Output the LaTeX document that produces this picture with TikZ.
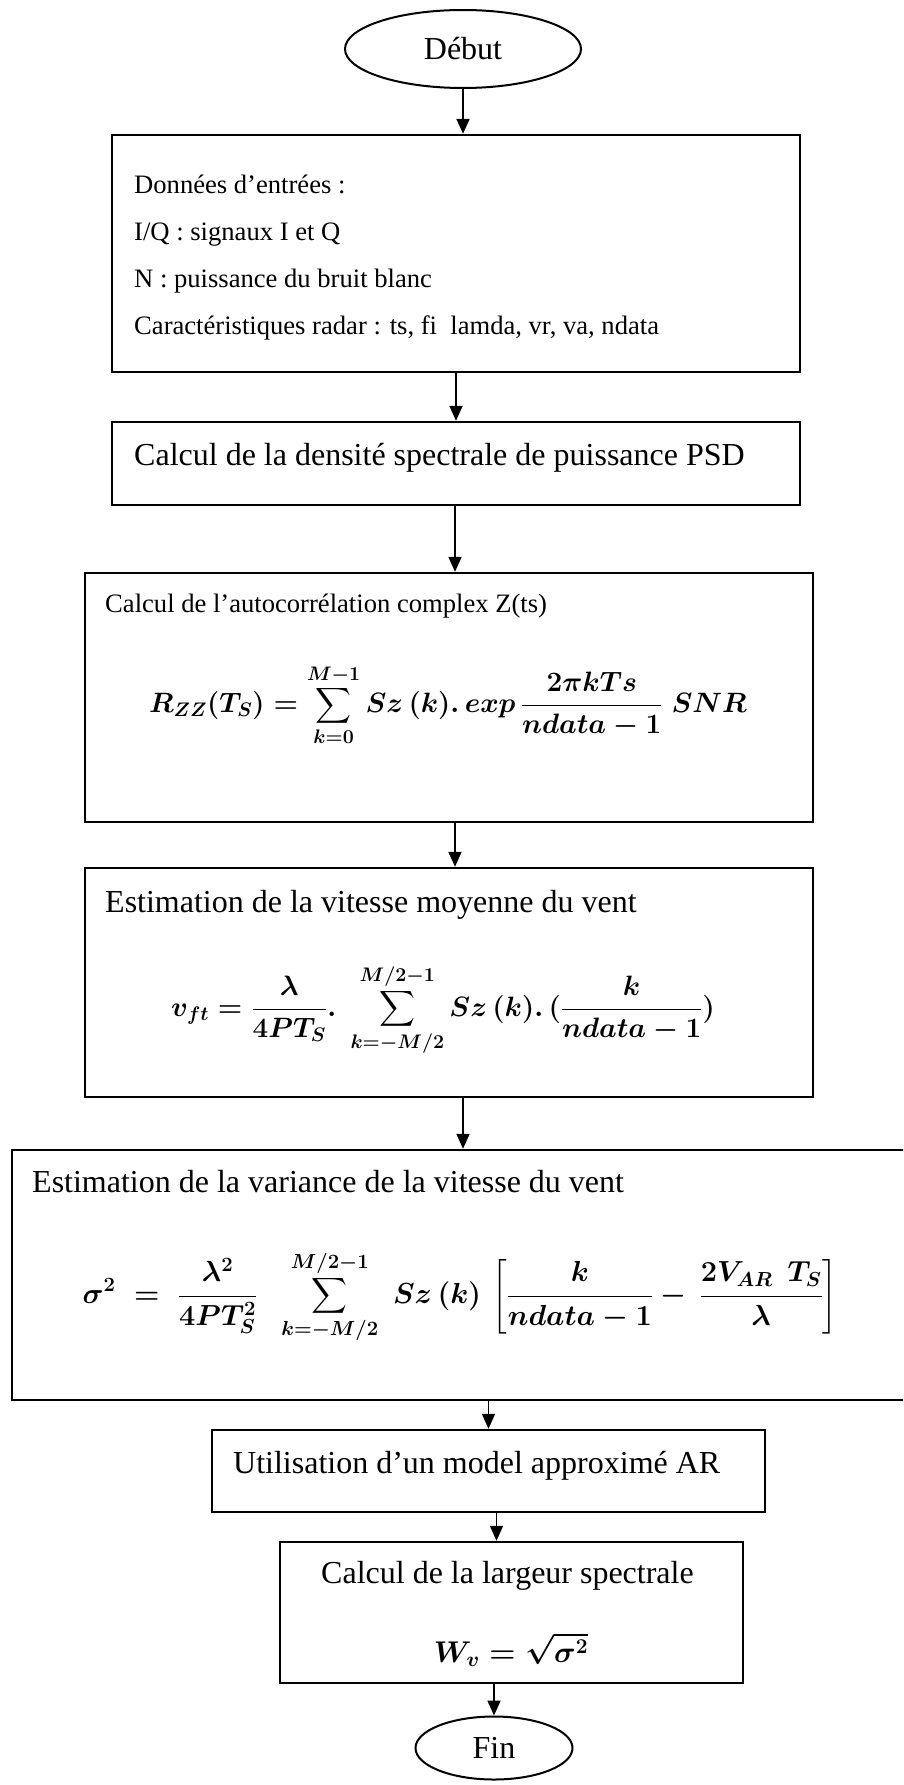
\documentclass[tikz,border=0pt]{standalone}
\usepackage{fix-cm}
\usepackage{amsmath}
\usepackage{fontspec}
\setmainfont{Liberation Serif}
\usetikzlibrary{arrows.meta,shapes.geometric}
\begin{document}
\begin{tikzpicture}[x=1pt,y=-1pt,
  stepbox/.style={draw, line width=2.4pt, inner sep=0pt},
  oval/.style={draw, ellipse, line width=2pt, inner sep=0pt, font=\fontsize{32}{36}\selectfont},
  txtsmall/.style={anchor=base west, inner sep=0pt, font=\fontsize{26.6}{30}\selectfont},
  txtbig/.style={anchor=base west, inner sep=0pt, font=\fontsize{32}{36}\selectfont},
  formula/.style={inner sep=0pt, font=\fontsize{28}{34}\selectfont\boldmath},
  arr/.style={line width=1.8pt, -{Triangle[length=15pt,width=13pt]}}
]
\useasboundingbox (0,0) rectangle (903,1785);
\clip (0,0) rectangle (903,1785);

% ovals
\node[oval, minimum width=236pt, minimum height=78pt] (debut) at (463,49) {Début};
\node[oval, minimum width=157pt, minimum height=63pt] (fin) at (494,1748) {Fin};

% boxes
\node[stepbox, minimum width=688pt, minimum height=237pt] (b1) at (456,253.5) {};
\node[stepbox, minimum width=688pt, minimum height=83pt] (b2) at (456,463.5) {};
\node[stepbox, minimum width=728pt, minimum height=249pt] (b3) at (449,697.5) {};
\node[stepbox, minimum width=728pt, minimum height=229pt] (b4) at (449,982.5) {};
\node[stepbox, minimum width=900pt, minimum height=250pt] (b5) at (462,1275) {};
\node[stepbox, minimum width=553pt, minimum height=82pt] (b6) at (488.5,1471) {};
\node[stepbox, minimum width=463pt, minimum height=141pt] (b7) at (511.5,1612.5) {};

% texts
\node[txtsmall] (t1a) at (134,193) {Données d’entrées :};
\node[txtsmall] (t1b) at (134,240) {I/Q : signaux I et Q};
\node[txtsmall] (t1c) at (134,287) {N : puissance du bruit blanc};
\node[txtsmall] (t1d) at (134,334) {Caractéristiques radar : ts, fi\ \ lamda, vr, va, ndata};
\node[txtbig] (t2) at (134,465) {Calcul de la densité spectrale de puissance PSD};
\node[txtsmall] (t3) at (105,612) {Calcul de l’autocorrélation complex Z(ts)};
\node[txtbig] (t4) at (105,912) {Estimation de la vitesse moyenne du vent};
\node[txtbig] (t5) at (32,1192) {Estimation de la variance de la vitesse du vent};
\node[txtbig] (t6) at (233,1473) {Utilisation d’un model approximé AR};
\node[txtbig] (t7) at (321,1583) {Calcul de la largeur spectrale};

% formulas
\node[formula] (f3) at (448,705) {$\displaystyle R_{ZZ}(T_S)=\sum_{k=0}^{M-1}Sz\,(k).\,exp\,\frac{2\pi kTs}{ndata-1}\;SNR$};
\node[formula] (f4) at (443,1010) {$\displaystyle v_{ft}=\frac{\lambda}{4PT_S}.\;\sum_{k=-M/2}^{M/2-1}Sz\,(k).\,(\frac{k}{ndata-1})$};
\node[formula, font=\fontsize{29}{35}\selectfont\boldmath] (f5) at (460,1297) {$\displaystyle \sigma^2\;=\;\frac{\lambda^2}{4PT_S^2}\;\;\sum_{k=-M/2}^{M/2-1}\;Sz\,(k)\,\left[\frac{k}{ndata-1}-\,\frac{2V_{AR}\;\,T_S}{\lambda}\right]$};
\node[formula, anchor=base, font=\fontsize{30}{36}\selectfont\boldmath] (f7) at (511,1662) {$W_v=\sqrt{\sigma^2}$};

% connectors
\draw[arr] (debut.south) -- (debut.south |- b1.north);
\draw[arr] (b1.south) -- (b2.north);
\draw[arr] ([xshift=-1pt]b2.south) -- ([xshift=-1pt]b2.south |- b3.north);
\draw[arr] ([xshift=6pt]b3.south) -- ([xshift=6pt]b4.north);
\draw[arr] ([xshift=14pt]b4.south) -- ([xshift=14pt]b4.south |- b5.north);
\draw[arr] (b6.north |- b5.south) -- (b6.north);
\draw[arr] ([xshift=8pt]b6.south) -- ([xshift=8pt]b6.south |- b7.north);
\draw[arr] (fin.north |- b7.south) -- (fin.north);
\end{tikzpicture}
\end{document}
